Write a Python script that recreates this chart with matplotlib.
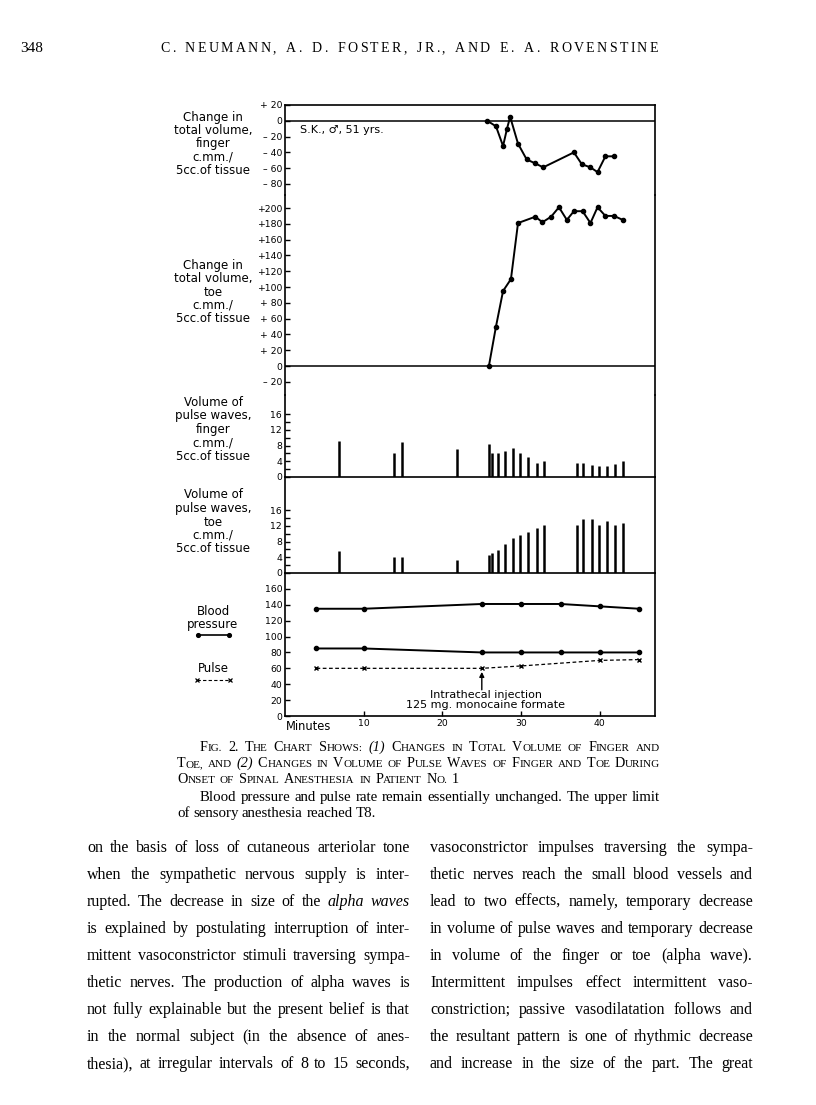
import matplotlib
matplotlib.use('Agg')
import matplotlib.pyplot as plt
from matplotlib.lines import Line2D

W, H = 816, 1105
SERIF = 'Liberation Serif'
plt.rcParams['font.family'] = ['DejaVu Sans']

# ----------------------------- data -----------------------
finger_t = [25.7, 26.8, 27.7, 28.2, 28.6, 29.6, 30.7, 31.8, 32.8, 36.7, 37.7,
            38.8, 39.7, 40.7, 41.8]
finger_vol = [0, -7, -32, -10, 5, -29, -49, -54, -59, -40, -55, -59, -65, -45, -45]

toe_t = [25.9, 26.8, 27.7, 28.7, 29.6, 31.8, 32.7, 33.8, 34.8, 35.8, 36.7,
         37.8, 38.8, 39.7, 40.7, 41.8, 42.9]
toe_vol = [0, 50, 95, 110, 181, 189, 182, 189, 201, 185, 196, 196, 181, 201,
           190, 190, 185]

wave_t = [6.9, 13.9, 14.9, 21.9, 25.9, 26.3, 27.0, 27.9, 28.9, 29.9, 30.9,
          32.0, 32.9, 37.1, 37.9, 39.0, 39.9, 40.9, 41.9, 42.9]
finger_wave = [9.3, 6, 8.9, 7.1, 8.5, 6, 6, 6.7, 7.3, 6, 5, 3.5, 4, 3.5, 3.5,
               3.1, 2.7, 2.7, 3.3, 4]
toe_wave = [5.6, 4, 4, 3.3, 4.6, 5, 5.8, 7.3, 8.9, 9.6, 10.4, 11.4, 12.3,
            12.25, 13.75, 13.75, 12.25, 13.2, 12.3, 12.75]

bp_t = [4, 10, 25, 30, 35, 40, 45]
systolic = [135, 135, 141, 141, 141, 138, 135]
diastolic = [85, 85, 80, 80, 80, 80, 80]
pulse_t = [4, 10, 25, 30, 40, 45]
pulse = [60, 60, 60, 63, 70, 71]

vol1_ticks = [20, 0, -20, -40, -60, -80]
vol1_labels = ['+ 20', '0', '\u2013 20', '\u2013 40', '\u2013 60', '\u2013 80']
vol2_ticks = [200, 180, 160, 140, 120, 100, 80, 60, 40, 20, 0, -20]
vol2_labels = ['+200', '+180', '+160', '+140', '+120', '+100', '+ 80', '+ 60',
               '+ 40', '+ 20', '0', '\u2013 20']
wave_ticks = [0, 2, 4, 6, 8, 10, 12, 14, 16]
wave_labels = ['0', '', '4', '', '8', '', '12', '', '16']
bp_ticks = [0, 20, 40, 60, 80, 100, 120, 140, 160]
minute_ticks = [10, 20, 30, 40]

left_column = [
    "on the basis of loss of cutaneous arteriolar tone",
    "when the sympathetic nervous supply is inter-",
    "rupted.  The decrease in size of the *alpha *waves",
    "is explained by postulating interruption of inter-",
    "mittent vasoconstrictor stimuli traversing sympa-",
    "thetic nerves.  The production of alpha waves is",
    "not fully explainable but the present belief is that",
    "in the normal subject (in the absence of anes-",
    "thesia), at irregular intervals of 8 to 15 seconds,",
]
right_column = [
    "vasoconstrictor impulses traversing the sympa-",
    "thetic nerves reach the small blood vessels and",
    "lead to two effects, namely, temporary decrease",
    "in volume of pulse waves and temporary decrease",
    "in volume of the finger or toe (alpha wave).",
    "Intermittent impulses effect intermittent vaso-",
    "constriction; passive vasodilatation follows and",
    "the resultant pattern is one of rhythmic decrease",
    "and increase in the size of the part.  The great",
]
caption = [
    "Fig. 2.  The Chart Shows: (1) Changes in Total Volume of Finger and",
    "Toe, and (2) Changes in Volume of Pulse Waves of Finger and Toe During",
    "Onset of Spinal Anesthesia in Patient No. 1",
]
note = [
    "Blood pressure and pulse rate remain essentially unchanged.  The upper limit",
    "of sensory anesthesia reached T8.",
]


def fx(x):
    return x / W


def fy(y):
    return 1 - y / H


fig = plt.figure(figsize=(W / 100, H / 100), dpi=100)


def panel(top, bottom):
    return fig.add_axes([fx(285), fy(bottom), 370 / W, (bottom - top) / H])


ax1 = panel(105, 195)
ax2 = panel(195, 395)
ax3 = panel(395, 477)
ax4 = panel(477, 573)
ax5 = panel(573, 716)
axes = [ax1, ax2, ax3, ax4, ax5]

for a in axes:
    a.set_xlim(0, 47)
    a.patch.set_alpha(0)
    for side in ['top', 'bottom']:
        a.spines[side].set_visible(False)
    for sp in a.spines.values():
        sp.set_linewidth(1.2)
    a.tick_params(axis='y', direction='in', length=3.5, width=1.0, pad=2,
                  labelsize=6.7)
    a.set_xticks([])
ax1.spines['top'].set_visible(True)
for a in [ax3, ax4, ax5]:
    a.spines['bottom'].set_visible(True)

# finger total volume
ax1.set_ylim(-94, 20)
ax1.set_yticks(vol1_ticks, vol1_labels)
ax1.axhline(0, color='k', lw=1.1)
ax1.plot(finger_t, finger_vol, 'k-', lw=1.4, marker='o', ms=3)
ax1.text(1.9, -11.7, 'S.K., \u2642, 51 yrs.', fontsize=8, va='center')

# toe total volume
ax2.set_ylim(-36.7, 216.5)
ax2.set_yticks(vol2_ticks, vol2_labels)
ax2.axhline(0, color='k', lw=1.1)
ax2.plot(toe_t, toe_vol, 'k-', lw=1.4, marker='o', ms=3)

# pulse waves
ax3.set_ylim(0, 20.9)
ax3.set_yticks(wave_ticks, wave_labels)
ax3.vlines(wave_t, 0, finger_wave, color='k', lw=1.8)
ax4.set_ylim(0, 24.5)
ax4.set_yticks(wave_ticks, wave_labels)
ax4.vlines(wave_t, 0, toe_wave, color='k', lw=1.8)

# blood pressure and pulse
ax5.set_ylim(0, 180)
ax5.set_yticks(bp_ticks)
ax5.plot(bp_t, systolic, 'k-', lw=1.4, marker='o', ms=3)
ax5.plot(bp_t, diastolic, 'k-', lw=1.4, marker='o', ms=3)
ax5.plot(pulse_t, pulse, color='k', lw=0.9, ls=(0, (3, 2)), marker='x', ms=3.5,
         mew=1.0)
ax5.set_xticks(minute_ticks)
ax5.tick_params(axis='x', direction='in', length=3.5, width=1.0, pad=2,
                labelsize=6.7)
ax5.annotate('', xy=(25, 55.5), xytext=(25, 33),
             arrowprops=dict(arrowstyle='-|>', lw=1.0, color='k',
                             mutation_scale=7, shrinkA=0, shrinkB=0))
ax5.text(25.5, 20, 'Intrathecal injection\n125 mg. monocaine formate',
         ha='center', va='center', fontsize=8, linespacing=0.95)
fig.text(fx(286), fy(726), 'Minutes', fontsize=8.3, va='center')

# panel labels
labels = [
    ('Change in\ntotal volume,\nfinger\nc.mm./\n5cc.of tissue', 144),
    ('Change in\ntotal volume,\ntoe\nc.mm./\n5cc.of tissue', 292),
    ('Volume of\npulse waves,\nfinger\nc.mm./\n5cc.of tissue', 429),
    ('Volume of\npulse waves,\ntoe\nc.mm./\n5cc.of tissue', 522),
]
for txt, yc in labels:
    fig.text(fx(213), fy(yc), txt, ha='center', va='center', fontsize=8.5,
             linespacing=1.05)
fig.text(fx(213), fy(618), 'Blood\npressure', ha='center', va='center',
         fontsize=8.5, linespacing=1.05)
fig.text(fx(213), fy(669), 'Pulse', ha='center', va='center', fontsize=8.5)
fig.add_artist(Line2D([fx(198), fx(229)], [fy(635), fy(635)], color='k',
                      lw=1.2, marker='o', ms=2.7, transform=fig.transFigure))
fig.add_artist(Line2D([fx(197), fx(230)], [fy(680), fy(680)], color='k',
                      lw=0.8, ls=(0, (3, 2)), marker='x', ms=3, mew=0.9,
                      transform=fig.transFigure))

# ------------------------------- page text -----------------------------------
renderer = fig.canvas.get_renderer()
_cache = {}


def text_w(s, size, style='normal'):
    key = (s, size, style)
    if key not in _cache:
        t = fig.text(0, 0, s, fontsize=size, style=style, family=SERIF)
        _cache[key] = t.get_window_extent(renderer).width
        t.remove()
    return _cache[key]


def min_gap(words_fn, lines, size, x0, x1):
    g = []
    for line, left in zip(lines, x0):
        words = words_fn(line, size)
        total = sum(text_w(*seg) for w in words for seg in w)
        g.append((x1 - left - total) / (len(words) - 1))
    return min(g)


def fit(words_fn, lines, size, x0, x1, gap):
    # largest common size for which every justified line keeps a word gap
    while size > 6 and min_gap(words_fn, lines, size, x0, x1) < gap:
        size = round(size - 0.1, 2)
    return size


def draw_line(words, x0, x1, y, justify=True, space=4.0):
    widths = [sum(text_w(*seg) for seg in w) for w in words]
    gap = space
    if justify and len(words) > 1:
        gap = (x1 - x0 - sum(widths)) / (len(words) - 1)
    x = x0
    for w, wd in zip(words, widths):
        xx = x
        for s, size, style in w:
            fig.text(fx(xx), fy(y), s, fontsize=size, style=style,
                     family=SERIF, va='baseline')
            xx += text_w(s, size, style)
        x += wd + gap


def plain_words(line, size):
    out = []
    for w in line.split():
        if w.startswith('*'):
            out.append([(w[1:], size, 'italic')])
        else:
            out.append([(w, size, 'normal')])
    return out


def caps_words(line, big):
    small = round(big * 0.79, 2)
    out = []
    for w in line.split():
        if w.startswith('('):
            out.append([(w, big, 'italic')])
            continue
        segs = []
        for ch in w:
            if ch.islower():
                seg = (ch.upper(), small)
            elif ch.isalnum() or not segs:
                seg = (ch, big)
            else:
                seg = (ch, segs[-1][1])
            if segs and segs[-1][1] == seg[1]:
                segs[-1] = (segs[-1][0] + seg[0], seg[1])
            else:
                segs.append(seg)
        out.append([(s, sz, 'normal') for s, sz in segs])
    return out


# running head
fig.text(fx(20), fy(52), '348', fontsize=11, family=SERIF, va='baseline')
head = 'C. NEUMANN, A. D. FOSTER, JR., AND E. A. ROVENSTINE'
hsize = 10
cw = [hsize * 0.5 if c == ' ' else text_w(c, hsize) for c in head]
track = (658 - 160 - sum(cw)) / (len(head) - 1)
x = 160
for c, w in zip(head, cw):
    if c != ' ':
        fig.text(fx(x), fy(52), c, fontsize=hsize, family=SERIF, va='baseline')
    x += w + track

# caption
cap_y = [751, 767, 783]
cap_x = [200, 177, 177]
cap_size = fit(caps_words, caption[:2], 10.5, cap_x[:2], 660, 4.5)
for i, line in enumerate(caption):
    draw_line(caps_words(line, cap_size), cap_x[i], 660, cap_y[i],
              justify=(i < len(caption) - 1), space=4.5)

note_size = fit(plain_words, note[:1], 11.5, [200], 660, 4.0)
draw_line(plain_words(note[0], note_size), 200, 660, 801)
draw_line(plain_words(note[1], note_size), 177, 660, 817, justify=False,
          space=3.5)

# body text, two justified columns
body_size = min(fit(plain_words, left_column, 13, [87] * 9, 410, 4.5),
                fit(plain_words, right_column, 13, [430] * 9, 753, 4.5))
for i, (l, r) in enumerate(zip(left_column, right_column)):
    y = 852 + 27 * i
    draw_line(plain_words(l, body_size), 87, 410, y)
    draw_line(plain_words(r, body_size), 430, 753, y)

fig.savefig('out.png', dpi=100)
